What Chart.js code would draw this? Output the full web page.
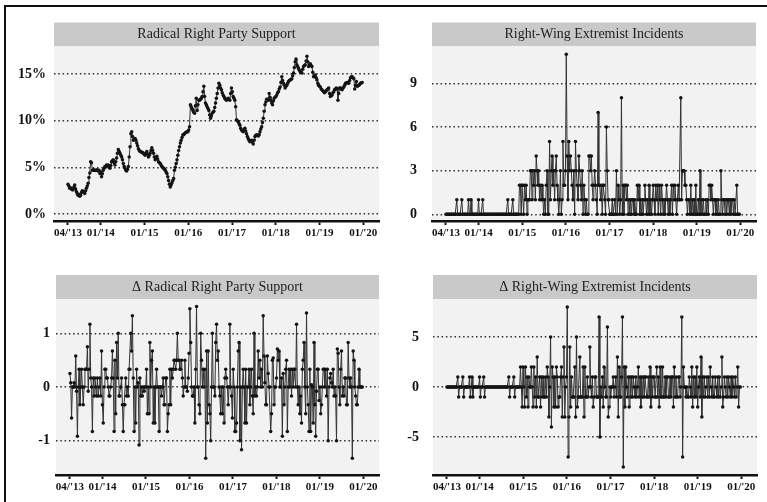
<!DOCTYPE html>
<html>
<head>
<meta charset="utf-8">
<script src="https://cdn.jsdelivr.net/npm/chart.js@4/dist/chart.umd.min.js"></script>
<style>
  html, body { margin: 0; padding: 0; background: #fff; }
  #page { position: relative; width: 767px; height: 502px; overflow: hidden; background: #fff; }
  #frame { position: absolute; left: 4px; top: 5px; width: 800px; height: 540px;
           border-top: 2px solid #111; border-left: 2px solid #111; }
  canvas { position: absolute; }
</style>
</head>
<body>
<div id="page">
  <div id="frame"></div>
  <canvas id="c1" width="384" height="245" style="left:0;top:0"></canvas>
  <canvas id="c2" width="383" height="245" style="left:384px;top:0"></canvas>
  <canvas id="c3" width="384" height="252" style="left:0;top:250px"></canvas>
  <canvas id="c4" width="383" height="252" style="left:384px;top:250px"></canvas>
</div>
<script>
// Weekly observations, first week in April 2013
const WEEK_START = 2013.25;
const WEEKS_PER_YEAR = 52.18;

const X_TICKS = [2013.25, 2014, 2015, 2016, 2017, 2018, 2019, 2020];
const X_TICK_LABELS = ["04/'13", "01/'14", "01/'15", "01/'16", "01/'17", "01/'18", "01/'19", "01/'20"];

// Radical right party support, % (weekly)
const partySupport = [
  3.2,3.0,2.75,2.8,2.7,2.6,2.6,2.9,3.1,2.7,
  2.4,2.2,2.0,2.1,1.9,2.0,2.3,2.5,2.4,2.3,
  2.2,2.5,2.75,3.0,3.3,3.9,4.4,5.6,5.5,4.7,
  4.7,4.75,4.7,4.65,4.7,4.75,4.6,4.7,4.35,4.5,
  4.0,4.3,4.7,4.9,5.1,5.1,5.25,5.2,5.25,5.0,
  4.9,5.2,5.6,5.7,5.8,5.5,5.25,5.6,6.0,6.5,
  6.9,6.7,6.5,6.3,6.1,5.8,5.4,5.1,4.9,4.7,
  4.6,4.8,5.1,6.1,7.2,8.6,8.8,8.3,7.9,8.0,
  8.1,7.9,7.6,7.3,7.0,6.8,6.7,6.7,6.6,6.6,
  6.5,6.4,6.3,6.5,6.7,6.4,6.1,6.3,6.5,6.8,
  7.1,6.8,6.5,6.1,5.8,6.0,6.2,5.9,5.6,5.5,
  5.4,5.25,5.1,5.0,4.9,4.8,4.7,4.5,4.35,4.0,
  3.6,3.2,2.9,3.1,3.35,3.6,3.8,4.7,5.0,5.4,
  5.8,6.3,6.8,7.2,7.6,7.9,8.2,8.5,8.5,8.6,
  8.7,8.75,8.8,8.8,9.0,9.35,11.7,11.5,11.3,11.1,
  10.9,10.8,11.6,12.4,11.1,11.7,12.2,12.2,12.3,12.4,
  12.6,13.1,13.7,12.6,11.9,11.7,11.5,11.3,11.1,10.6,
  10.25,10.5,10.8,10.9,11.0,11.4,11.9,12.4,12.9,13.5,
  14.0,13.8,13.5,13.3,13.0,12.75,12.6,12.4,12.3,12.2,
  12.3,12.4,12.3,12.2,12.9,13.5,13.1,12.6,12.4,12.2,
  11.5,10.1,10.0,9.9,9.7,9.5,9.2,9.0,8.9,8.8,
  9.0,9.2,8.9,8.6,8.3,8.1,7.9,7.75,7.8,7.9,
  7.7,7.5,7.9,8.3,8.4,8.5,8.4,8.35,8.5,8.8,
  9.1,9.35,9.8,10.25,11.0,11.7,12.0,12.3,12.3,12.2,
  12.9,12.5,12.2,11.9,11.7,12.1,12.4,12.5,12.6,12.75,
  13.0,13.1,13.4,13.6,14.1,14.7,14.3,14.0,13.8,13.5,
  13.7,13.8,14.0,14.2,14.3,14.35,14.4,14.5,14.8,15.1,
  15.7,16.3,16.6,16.0,15.8,15.6,15.4,15.25,15.2,15.1,
  15.5,15.8,15.9,16.0,16.4,16.9,16.3,15.8,16.0,16.1,
  15.9,15.8,15.2,14.7,14.8,14.9,14.6,14.35,14.0,13.8,
  13.7,13.6,13.4,13.3,13.2,13.1,13.0,13.1,13.2,13.3,
  13.4,13.5,12.9,12.6,12.7,12.75,13.0,13.1,13.3,13.4,
  13.5,13.4,12.2,12.9,13.5,13.5,13.4,13.3,13.5,13.6,
  13.8,14.0,14.0,14.1,14.1,14.0,14.3,14.6,14.7,14.7,
  14.6,14.5,13.4,13.8,14.2,13.7,13.75,13.8,13.9,14.0,14.05,14.1
];

// Right-wing extremist incidents per week
const incidents = [
  0,0,0,0,0,0,0,0,0,0,
  0,0,0,1,0,0,0,0,0,1,
  0,0,0,0,0,0,0,1,0,0,
  1,0,0,0,0,0,0,0,0,1,
  0,0,0,0,1,0,0,0,0,0,
  0,0,0,0,0,0,0,0,0,0,
  0,0,0,0,0,0,0,0,0,0,
  0,0,0,0,1,0,0,0,0,0,
  1,0,0,0,0,0,0,0,2,2,
  0,2,2,0,2,1,2,0,1,1,
  1,3,3,1,3,2,3,1,4,3,
  2,3,1,2,1,2,1,0,1,0,
  2,3,0,0,5,1,3,4,2,3,
  1,3,4,2,1,0,1,3,0,1,
  5,2,2,3,11,4,1,5,3,4,
  3,2,1,3,0,5,3,2,1,4,
  3,2,1,3,0,2,1,0,1,0,
  0,4,4,3,4,2,1,2,3,2,
  1,0,7,2,2,1,2,0,2,2,
  1,0,6,3,1,1,0,0,0,1,
  0,0,1,0,3,0,2,1,0,1,
  8,0,2,0,2,2,1,2,0,1,
  0,1,0,1,1,0,1,0,0,2,
  1,2,0,1,0,1,0,1,2,1,
  0,1,0,2,0,1,0,1,2,1,
  0,2,1,2,0,2,1,0,2,1,
  0,1,0,1,2,1,0,1,0,1,
  2,0,2,1,2,1,0,1,2,1,
  1,8,1,3,3,3,2,2,1,0,
  1,1,0,2,0,1,0,1,0,2,
  0,0,1,0,3,0,1,0,1,0,
  0,1,0,1,0,2,2,1,2,1,
  0,1,1,0,1,0,1,0,0,3,
  1,0,1,1,0,1,0,1,1,0,
  1,0,1,1,0,1,0,0,2,0,0,0
];

// Week-on-week change in radical right party support, percentage points
const partySupportChange = [
  0.25,0.08,-0.58,0,0,0.08,0,0.58,-0.08,-0.92,
  0,0.33,-0.33,0,0.33,0,-0.33,0,0.33,0.33,
  0.33,0.75,-0.08,0.33,1.17,0.17,0,-0.83,0.17,-0.17,
  0.17,0,-0.17,0.17,-0.17,0,0.17,-0.17,0.67,-0.33,
  -0.67,0,0.33,0.33,0.17,0.17,0,-0.17,-0.17,0,
  0.17,0.67,0.17,-0.83,0.5,-0.5,0.83,0.17,1.0,-0.17,
  -0.17,0,0.17,-0.33,-0.83,-0.33,-0.33,0.17,-0.17,0,
  -0.17,0.33,0.33,1.0,0.67,1.33,0.17,-0.83,0,-0.67,
  0.33,0,0.08,-1.08,0.17,-0.17,0,-0.17,0,-0.08,
  0,0,0.33,-0.5,0,-0.5,0.83,0,0.5,0.67,
  -0.67,0,-0.67,0,0.33,0,0,-0.83,0,0,
  -0.17,0,0.17,-0.33,-0.33,0.17,0.17,-0.83,-0.5,-0.33,
  0.33,-0.33,0.33,0.17,0.33,0.5,0.5,0.33,0.5,1.0,
  0.5,0.5,0.33,0.33,0.5,0.17,-0.17,0,0.5,0,
  0,-0.08,0.17,0.63,1.46,0.83,0,-0.17,-0.17,0,
  -0.67,0.33,1.5,0,0,-0.33,-0.5,1.0,0.5,0,
  0.33,0,0.33,-1.33,0.67,-0.67,0.67,-0.33,-0.5,-1.0,
  0,1.0,0,0,-0.17,0.83,1.17,0.5,0.67,0,
  -0.17,-0.5,0,-0.5,0,-0.67,0.17,0.33,0.17,0,
  -0.33,0,1.17,0,-0.17,-0.58,0.33,0,-0.83,-0.83,
  -0.67,0,0.67,0.83,-1.0,0,-1.17,0,0.33,0,
  -0.67,0.33,-0.67,0,0,0.33,-0.33,0,0.33,-0.17,
  -0.5,1.0,-0.17,0,-0.17,0,0.67,0.17,0.5,0,
  0.33,0,1.33,0.58,0.08,-0.33,-0.33,0.58,0.25,0,
  0,-0.83,-0.5,0.5,0.54,-0.33,0,0,0.17,0.71,
  0.5,0.67,0,0,0.17,-0.92,0.25,-0.33,0,0.33,
  0.5,-0.83,0,0.33,0,0.33,-0.17,0.33,0,0.33,
  0.33,0,1.17,0,-0.33,0,-0.5,-0.17,-0.67,0.33,
  0.5,0.83,0,-0.5,1.38,0,-0.33,-0.83,0.33,-0.83,
  0.04,0,-0.67,0.83,-0.33,-0.92,-0.08,0.33,0.33,-0.25,
  0,-0.5,-0.33,0,0.33,0.33,0,0.33,-0.17,0.33,
  -1.0,0,0.17,0.25,0.08,0,0.33,-0.17,0,-0.17,
  -1.0,0.71,0.63,0,-0.33,0.33,0.67,-0.17,0,-0.17,
  0.17,0.17,-0.33,-0.33,0.83,0.17,0,0.17,0,-1.33,
  0.67,0.5,0,-0.17,-0.33,-0.33,0,0.33,0,0,0,0
];

// Week-on-week change in right-wing extremist incidents
const incidentsChange = [
  0,0,0,0,0,0,0,0,0,0,
  0,0,0,1,-1,0,0,0,0,1,
  -1,0,0,0,0,0,0,1,-1,0,
  1,-1,0,0,0,0,0,0,0,1,
  -1,0,0,0,1,-1,0,0,0,0,
  0,0,0,0,0,0,0,0,0,0,
  0,0,0,0,0,0,0,0,0,0,
  0,0,0,0,1,-1,0,0,0,0,
  1,-1,0,0,0,0,0,0,2,0,
  -2,2,0,-2,2,-1,1,-2,1,0,
  0,2,0,-2,2,-1,1,-2,3,-1,
  -1,1,-2,1,-1,1,-1,-1,1,-1,
  2,1,-3,0,5,-4,2,1,-2,1,
  -2,2,1,-2,-1,-1,1,2,-3,1,
  4,-3,0,1,8,-7,-3,4,-2,1,
  -1,-1,-1,2,-3,5,-2,-1,-1,3,
  -1,-1,-1,2,-3,2,-1,-1,1,-1,
  0,4,0,-1,1,-2,-1,1,1,-1,
  -1,-1,7,-5,0,-1,1,-2,2,0,
  -1,-1,6,-3,-2,0,-1,0,0,1,
  -1,0,1,-1,3,-3,2,-1,-1,1,
  7,-8,2,-2,2,0,-1,1,-2,1,
  -1,1,-1,1,0,-1,1,-1,0,2,
  -1,1,-2,1,-1,1,-1,1,1,-1,
  -1,1,-1,2,-2,1,-1,1,1,-1,
  -1,2,-1,1,-2,2,-1,-1,2,-1,
  -1,1,-1,1,1,-1,-1,1,-1,1,
  1,-2,2,-1,1,-1,-1,1,1,-1,
  0,7,-7,2,0,0,-1,0,-1,-1,
  1,0,-1,2,-2,1,-1,1,-1,2,
  -2,0,1,-1,3,-3,1,-1,1,-1,
  0,1,-1,1,-1,2,0,-1,1,-1,
  -1,1,0,-1,1,-1,1,-1,0,3,
  -2,-1,1,0,-1,1,-1,1,0,-1,
  1,-1,1,0,-1,1,-1,0,2,-2,0,0
];

const weeks = partySupport.map((_, i) => WEEK_START + i / WEEKS_PER_YEAR);

const SERIF = '"Liberation Serif", "Times New Roman", serif';

// Grey title strip above each plot plus the light panel background
const panelFrame = {
  id: 'panelFrame',
  beforeDraw(chart, args, opts) {
    const { ctx, chartArea: a } = chart;
    ctx.save();
    ctx.fillStyle = '#f2f2f2';
    ctx.fillRect(a.left, a.top, a.right - a.left, a.bottom - a.top);
    ctx.fillStyle = '#c9c9c9';
    ctx.fillRect(a.left, a.top - opts.height, a.right - a.left, opts.height);
    ctx.fillStyle = '#222';
    ctx.font = '14px ' + SERIF;
    ctx.textAlign = 'center';
    ctx.textBaseline = 'middle';
    ctx.fillText(opts.text, (a.left + a.right) / 2, a.top - opts.height / 2 + 0.5);
    ctx.restore();
  }
};

const panels = [
  { id: 'c1', title: 'Radical Right Party Support', values: partySupport,
    yMin: -0.75, yMax: 18.0, yTicks: [0, 5, 10, 15], yLabels: ['0%', '5%', '10%', '15%'],
    yWidth: 54, yPad: 8, padding: { top: 46, right: 5, bottom: 0, left: 0 }, headerH: 23.5 },
  { id: 'c2', title: 'Right-Wing Extremist Incidents', values: incidents,
    yMin: -0.46, yMax: 11.56, yTicks: [0, 3, 6, 9], yLabels: ['0', '3', '6', '9'],
    yWidth: 48, yPad: 15, padding: { top: 46, right: 11, bottom: 0, left: 0 }, headerH: 23.5 },
  { id: 'c3', title: '\u0394 Radical Right Party Support', values: partySupportChange,
    yMin: -1.64, yMax: 1.64, yTicks: [-1, 0, 1], yLabels: ['-1', '0', '1'],
    yWidth: 56, yPad: 6, padding: { top: 49, right: 5, bottom: 3, left: 0 }, headerH: 24 },
  { id: 'c4', title: '\u0394 Right-Wing Extremist Incidents', values: incidentsChange,
    yMin: -8.8, yMax: 8.8, yTicks: [-5, 0, 5], yLabels: ['-5', '0', '5'],
    yWidth: 49, yPad: 14, padding: { top: 49, right: 10, bottom: 3, left: 0 }, headerH: 24 }
];

function makeChart(p) {
  return new Chart(document.getElementById(p.id), {
    type: 'line',
    data: {
      datasets: [{
        data: p.values.map((v, i) => ({ x: weeks[i], y: v })),
        borderColor: '#333',
        borderWidth: 1,
        pointRadius: 1.75,
        pointHoverRadius: 1.75,
        pointBackgroundColor: '#141414',
        pointBorderWidth: 0,
        tension: 0,
        fill: false
      }]
    },
    options: {
      responsive: false,
      animation: false,
      devicePixelRatio: 1,
      events: [],
      layout: { padding: p.padding },
      plugins: {
        legend: { display: false },
        tooltip: { enabled: false },
        panelFrame: { text: p.title, height: p.headerH }
      },
      scales: {
        x: {
          type: 'linear',
          min: 2012.93,
          max: 2020.36,
          afterBuildTicks: s => { s.ticks = X_TICKS.map(v => ({ value: v })); },
          afterFit: s => { s.height = 24; },
          grid: { drawOnChartArea: false, drawTicks: true, tickLength: 4, tickWidth: 2, tickColor: '#111' },
          border: { display: true, color: '#111', width: 2.5 },
          ticks: {
            autoSkip: false, maxRotation: 0, padding: 2, color: '#111',
            font: { family: SERIF, size: 11, weight: 'bold' },
            callback: (v, i) => X_TICK_LABELS[i]
          }
        },
        y: {
          type: 'linear',
          min: p.yMin,
          max: p.yMax,
          afterBuildTicks: s => { s.ticks = p.yTicks.map(v => ({ value: v })); },
          afterFit: s => { s.width = p.yWidth; },
          grid: { drawTicks: false, color: '#2e2e2e', lineWidth: 1.5 },
          border: { display: false, dash: [1.5, 2.8] },
          ticks: {
            padding: p.yPad, color: '#111',
            font: { family: SERIF, size: 14, weight: 'bold' },
            callback: (v, i) => p.yLabels[i]
          }
        }
      }
    },
    plugins: [panelFrame]
  });
}

panels.forEach(makeChart);
</script>
</body>
</html>
